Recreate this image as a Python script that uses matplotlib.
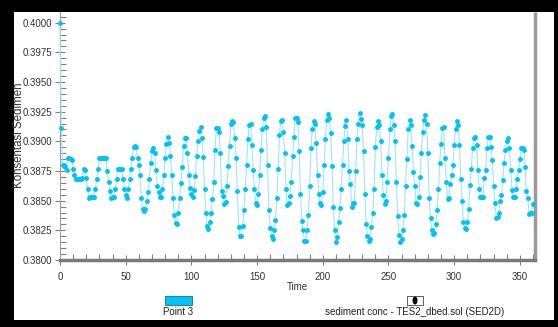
import matplotlib.pyplot as plt
from matplotlib.patches import Rectangle, Ellipse
from matplotlib.ticker import MultipleLocator, FormatStrFormatter

plt.rcParams['font.family'] = ['Liberation Sans', 'DejaVu Sans']

# hourly sediment concentration at Point 3
time = list(range(361))
conc = [
    0.4000, 0.3911, 0.3880, 0.3880, 0.3878, 0.3876, 0.3886, 0.3886, 0.3885, 0.3884,
    0.3877, 0.3872, 0.3868, 0.3868, 0.3868, 0.3868, 0.3868, 0.3869, 0.3877, 0.3876,
    0.3869, 0.3860, 0.3852, 0.3853, 0.3853, 0.3853, 0.3853, 0.3860, 0.3868, 0.3877,
    0.3886, 0.3886, 0.3886, 0.3886, 0.3886, 0.3886, 0.3875, 0.3866, 0.3858, 0.3852,
    0.3853, 0.3853, 0.3860, 0.3868, 0.3877, 0.3877, 0.3877, 0.3877, 0.3868, 0.3860,
    0.3855, 0.3852, 0.3860, 0.3868, 0.3877, 0.3886, 0.3895, 0.3896, 0.3895, 0.3886,
    0.3880, 0.3872, 0.3852, 0.3843, 0.3841, 0.3843, 0.3850, 0.3857, 0.3868, 0.3882,
    0.3892, 0.3894, 0.3890, 0.3876, 0.3862, 0.3857, 0.3853, 0.3853, 0.3860, 0.3872,
    0.3886, 0.3898, 0.3904, 0.3899, 0.3888, 0.3872, 0.3852, 0.3838, 0.3831, 0.3830,
    0.3840, 0.3852, 0.3865, 0.3878, 0.3896, 0.3903, 0.3903, 0.3890, 0.3872, 0.3861,
    0.3856, 0.3853, 0.3859, 0.3871, 0.3888, 0.3900, 0.3909, 0.3912, 0.3903, 0.3887,
    0.3860, 0.3840, 0.3829, 0.3826, 0.3832, 0.3840, 0.3851, 0.3866, 0.3893, 0.3911,
    0.3911, 0.3908, 0.3890, 0.3858, 0.3854, 0.3847, 0.3849, 0.3862, 0.3879, 0.3896,
    0.3915, 0.3917, 0.3916, 0.3903, 0.3886, 0.3858, 0.3828, 0.3820, 0.3820, 0.3829,
    0.3842, 0.3860, 0.3880, 0.3902, 0.3914, 0.3915, 0.3897, 0.3876, 0.3860, 0.3848,
    0.3846, 0.3856, 0.3872, 0.3893, 0.3910, 0.3920, 0.3921, 0.3912, 0.3880, 0.3842,
    0.3827, 0.3820, 0.3818, 0.3825, 0.3834, 0.3852, 0.3877, 0.3905, 0.3917, 0.3918,
    0.3908, 0.3890, 0.3860, 0.3846, 0.3848, 0.3854, 0.3866, 0.3888, 0.3904, 0.3920,
    0.3920, 0.3916, 0.3892, 0.3856, 0.3833, 0.3825, 0.3816, 0.3816, 0.3825, 0.3838,
    0.3862, 0.3894, 0.3910, 0.3917, 0.3915, 0.3899, 0.3872, 0.3856, 0.3848, 0.3846,
    0.3857, 0.3880, 0.3902, 0.3918, 0.3923, 0.3920, 0.3907, 0.3879, 0.3845, 0.3825,
    0.3815, 0.3819, 0.3832, 0.3844, 0.3860, 0.3880, 0.3900, 0.3913, 0.3918, 0.3902,
    0.3875, 0.3864, 0.3845, 0.3848, 0.3848, 0.3875, 0.3902, 0.3915, 0.3924, 0.3919,
    0.3914, 0.3892, 0.3856, 0.3830, 0.3820, 0.3816, 0.3818, 0.3828, 0.3840, 0.3860,
    0.3895, 0.3912, 0.3917, 0.3914, 0.3900, 0.3872, 0.3855, 0.3847, 0.3850, 0.3866,
    0.3886, 0.3910, 0.3921, 0.3923, 0.3914, 0.3900, 0.3866, 0.3837, 0.3821, 0.3815,
    0.3818, 0.3825, 0.3838, 0.3862, 0.3885, 0.3910, 0.3918, 0.3914, 0.3896, 0.3874,
    0.3862, 0.3848, 0.3847, 0.3853, 0.3870, 0.3890, 0.3908, 0.3918, 0.3922, 0.3915,
    0.3890, 0.3852, 0.3835, 0.3825, 0.3822, 0.3823, 0.3830, 0.3842, 0.3860, 0.3882,
    0.3898, 0.3911, 0.3912, 0.3886, 0.3866, 0.3851, 0.3852, 0.3864, 0.3872, 0.3880,
    0.3897, 0.3910, 0.3917, 0.3914, 0.3897, 0.3868, 0.3850, 0.3832, 0.3827, 0.3826,
    0.3832, 0.3843, 0.3863, 0.3877, 0.3894, 0.3903, 0.3904, 0.3897, 0.3876, 0.3860,
    0.3853, 0.3853, 0.3853, 0.3869, 0.3876, 0.3894, 0.3904, 0.3904, 0.3895, 0.3884,
    0.3862, 0.3848, 0.3835, 0.3836, 0.3840, 0.3850, 0.3855, 0.3867, 0.3882, 0.3893,
    0.3900, 0.3903, 0.3894, 0.3876, 0.3859, 0.3853, 0.3853, 0.3860, 0.3868, 0.3876,
    0.3885, 0.3894, 0.3894, 0.3893, 0.3878, 0.3858, 0.3852, 0.3839, 0.3840, 0.3840,
    0.3847,
]
series_label = "Point 3"
source_label = "sediment conc - TES2_dbed.sol (SED2D)"

W, H = 558, 327
fig = plt.figure(figsize=(W / 100, H / 100), dpi=100, facecolor='black')

# white panel inside the black frame
fig.patches.append(Rectangle((14 / W, 1 - 320 / H), 540 / W, 308 / H,
                             transform=fig.transFigure, facecolor='white',
                             edgecolor='none', zorder=-10))

ax = fig.add_axes([60 / W, 1 - 260 / H, 475 / W, 248 / H])
ax.set_zorder(5)
ax.set_facecolor('white')
ax.plot(time, conc, color='#9be6ff', lw=0.8, marker='o', ms=2.5,
        mfc='#00c3f5', mec='#00c3f5', zorder=3, clip_on=False)

ax.set_xlim(0, 361.5)
ax.set_ylim(0.3800, 0.4009)
ax.xaxis.set_major_locator(MultipleLocator(50))
ax.xaxis.set_minor_locator(MultipleLocator(10))
ax.yaxis.set_major_locator(MultipleLocator(0.0025))
ax.yaxis.set_minor_locator(MultipleLocator(0.0005))
ax.yaxis.set_major_formatter(FormatStrFormatter('%.4f'))

ax.spines['top'].set_visible(False)
ax.spines['left'].set_color('#a0a0a0')
ax.spines['left'].set_linewidth(0.8)
ax.spines['bottom'].set_color('#7a7a7a')
ax.spines['bottom'].set_linewidth(2.5)
ax.spines['right'].set_color('#9a9a9a')
ax.spines['right'].set_linewidth(2.5)
ax.spines['right'].set_capstyle('butt')

ax.tick_params(axis='both', which='major', direction='inout', length=7,
               width=0.8, color='#808080', labelsize=7, labelcolor='#333333')
ax.tick_params(axis='both', which='minor', direction='in', length=4,
               width=0.8, color='#808080')
ax.tick_params(axis='x', which='major', pad=5)
ax.tick_params(axis='y', which='major', pad=2)

ax.set_xlabel('Time', fontsize=7, color='#333333', labelpad=0)
fig.text(19.5 / W, 1 - 135 / H, 'Konsentasi Sedimen', rotation=90,
         ha='center', va='center', fontsize=8.3, color='#333333')

# legend at the bottom
fig.patches.append(Rectangle((165 / W, 1 - 305 / H), 27 / W, 9 / H,
                             transform=fig.transFigure, facecolor='#00c3f5',
                             edgecolor='#1a6f8a', lw=0.6, zorder=2))
fig.text(178 / W, 1 - 312 / H, series_label, ha='center', va='center',
         fontsize=7, color='#222222')
fig.patches.append(Rectangle((407 / W, 1 - 305 / H), 16 / W, 9 / H,
                             transform=fig.transFigure, facecolor='white',
                             edgecolor='#444444', lw=0.6, zorder=2))
fig.patches.append(Ellipse((415 / W, 1 - 300.5 / H), 5 / W, 8 / H,
                           transform=fig.transFigure, facecolor='black',
                           edgecolor='none', zorder=3))
fig.text(415 / W, 1 - 312 / H, source_label, ha='center', va='center',
         fontsize=7, color='#222222')

fig.savefig('out.png', dpi=100, facecolor='black')
